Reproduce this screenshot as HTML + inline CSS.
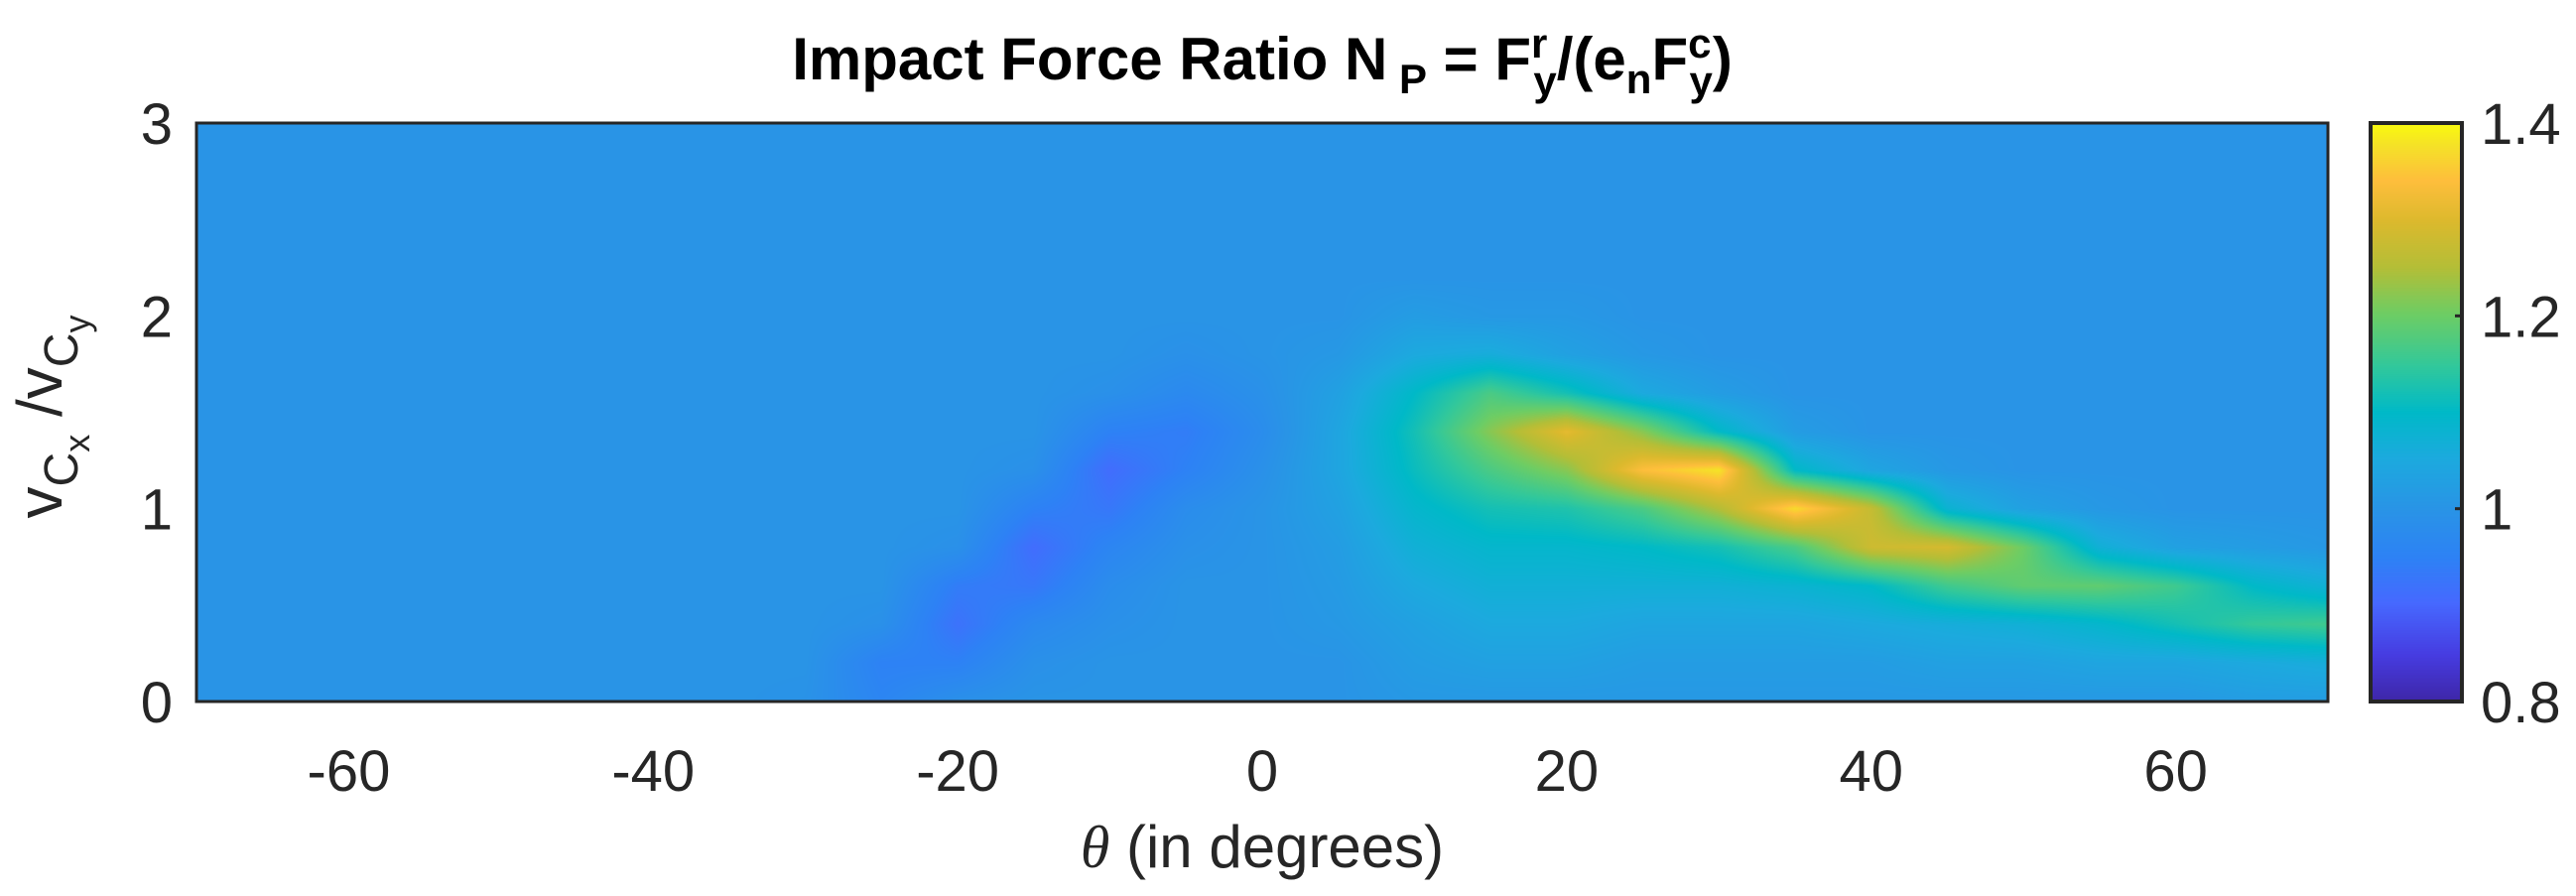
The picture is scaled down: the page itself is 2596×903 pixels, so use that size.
<!DOCTYPE html>
<html><head><meta charset="utf-8"><style>
html,body{margin:0;padding:0;background:#fff;}
#wrap{position:relative;width:2596px;height:903px;overflow:hidden;font-family:"Liberation Sans",Arial,sans-serif;}
svg text{font-family:"Liberation Sans",Arial,sans-serif;fill:#262626;}
canvas{position:absolute;}
</style></head><body>
<div id="wrap">
<canvas id="heat" style="left:198px;top:124px" width="2148" height="583"></canvas>
<canvas id="cbar" style="left:2389px;top:124px" width="92" height="583"></canvas>
<svg id="ov" width="2596" height="903" style="position:absolute;left:0;top:0">
<text x="1272" y="80" text-anchor="middle" font-size="60" font-weight="bold" style="fill:#000">Impact Force Ratio N<tspan font-size="42" dy="14"> P</tspan><tspan dy="-14"> = F</tspan><tspan font-size="42" dy="-22">r</tspan><tspan font-size="42" dx="-14" dy="38">y</tspan><tspan dy="-16">/(e</tspan><tspan font-size="42" dy="14">n</tspan><tspan dy="-14">F</tspan><tspan font-size="42" dy="-22">c</tspan><tspan font-size="42" dx="-22" dy="38">y</tspan><tspan dy="-16">)</tspan></text>
<text x="1272" y="874" text-anchor="middle" font-size="60"><tspan font-style="italic" font-family="Liberation Serif">θ</tspan> (in degrees)</text>
<g transform="translate(62,420) rotate(-90)">
<text x="0" y="0" text-anchor="middle" font-size="64">v<tspan font-size="48" dy="16">C</tspan><tspan font-size="36" dy="12">x</tspan><tspan dy="-28"> /v</tspan><tspan font-size="48" dy="16">C</tspan><tspan font-size="36" dy="12">y</tspan></text>
</g>
<g id="xt"></g><g id="yt"></g><g id="ct"></g>
<rect x="198" y="124" width="2148" height="583" fill="none" stroke="#262626" stroke-width="3"/>
<rect x="2389" y="124" width="92" height="583" fill="none" stroke="#262626" stroke-width="4"/>
</svg>
</div>
<script>
const thetas=[-70,-65,-60,-55,-50,-45,-40,-35,-30,-25,-20,-15,-10,-5,0,5,10,15,20,25,30,35,40,45,50,55,60,65,70];
const ratios=[0,0.2,0.4,0.6,0.8,1.0,1.2,1.4,1.6,1.8,2.0,2.2,2.4,2.6,2.8,3.0];
const xTicks=[-60,-40,-20,0,20,40,60];
const yTicks=[0,1,2,3];
const cTicks=[0.8,1,1.2,1.4];
const cMin=0.8, cMax=1.4;
const c_m70=[1,1,1,1,1,1,1,1,1,1,1,1,1,1,1,1];
const c_m65=[1,1,1,1,1,1,1,1,1,1,1,1,1,1,1,1];
const c_m60=[1,1,1,1,1,1,1,1,1,1,1,1,1,1,1,1];
const c_m55=[1,1,1,1,1,1,1,1,1,1,1,1,1,1,1,1];
const c_m50=[1,1,1,1,1,1,1,1,1,1,1,1,1,1,1,1];
const c_m45=[1,1,1,1,1,1,1,1,1,1,1,1,1,1,1,1];
const c_m40=[1,1,1,1,1,1,1,1,1,1,1,1,1,1,1,1];
const c_m35=[1,1,1,1,1,1,1,1,1,1,1,1,1,1,1,1];
const c_m30=[0.995,1,1,1,1,1,1,1,1,1,1,1,1,1,1,1];
const c_m25=[0.96,0.95,0.99,1,1,1,1,1,1,1,1,1,1,1,1,1];
const c_m20=[0.99,0.95,0.92,0.94,0.99,1,1,1,1,1,1,1,1,1,1,1];
const c_m15=[1,0.99,0.97,0.93,0.91,0.95,0.99,1,1,1,1,1,1,1,1,1];
const c_m10=[1,1,0.99,0.98,0.96,0.93,0.91,0.95,0.99,1,1,1,1,1,1,1];
const c_m5=[1,1,1,1,0.99,0.98,0.95,0.94,0.97,0.99,1,1,1,1,1,1];
const c_0=[1,1,1,1,1,1,0.99,0.98,0.99,1,1,1,1,1,1,1];
const c_5=[1,1,1.01,1.015,1.02,1.03,1.04,1.04,1.03,1.01,1,1,1,1,1,1];
const c_10=[1.01,1.02,1.03,1.05,1.07,1.09,1.11,1.12,1.10,1.05,1.02,1,1,1,1,1];
const c_15=[1.01,1.03,1.05,1.07,1.09,1.12,1.17,1.22,1.17,1.06,1.01,1,1,1,1,1];
const c_20=[1.01,1.03,1.05,1.07,1.09,1.13,1.22,1.31,1.12,1.03,1.01,1,1,1,1,1];
const c_25=[1.01,1.02,1.04,1.07,1.10,1.17,1.34,1.22,1.05,1.01,1,1,1,1,1,1];
const c_30=[1.01,1.02,1.04,1.07,1.12,1.25,1.38,1.10,1.02,1,1,1,1,1,1,1];
const c_35=[1.01,1.02,1.04,1.08,1.17,1.37,1.10,1.02,1,1,1,1,1,1,1,1];
const c_40=[1.01,1.02,1.05,1.10,1.28,1.27,1.04,1,1,1,1,1,1,1,1,1];
const c_45=[1.01,1.03,1.06,1.16,1.29,1.08,1.01,1,1,1,1,1,1,1,1,1];
const c_50=[1.01,1.03,1.07,1.19,1.20,1.03,1,1,1,1,1,1,1,1,1,1];
const c_55=[1.01,1.04,1.09,1.19,1.07,1.01,1,1,1,1,1,1,1,1,1,1];
const c_60=[1.01,1.04,1.12,1.16,1.03,1,1,1,1,1,1,1,1,1,1,1];
const c_65=[1.02,1.05,1.15,1.10,1.02,1,1,1,1,1,1,1,1,1,1,1];
const c_70=[1.02,1.06,1.16,1.07,1.01,1,1,1,1,1,1,1,1,1,1,1];
const values=[c_m70,c_m65,c_m60,c_m55,c_m50,c_m45,c_m40,c_m35,c_m30,c_m25,c_m20,c_m15,c_m10,c_m5,c_0,c_5,c_10,c_15,c_20,c_25,c_30,c_35,c_40,c_45,c_50,c_55,c_60,c_65,c_70];

const PX=198,PY=124,PW=2148,PH=583;
const xMin=-70,xMax=70,yMin=0,yMax=3;
function xScale(t){return PX+(t-xMin)/(xMax-xMin)*PW;}
function yScale(r){return PY+PH-(r-yMin)/(yMax-yMin)*PH;}
function cScale(v){return PY+PH-(v-cMin)/(cMax-cMin)*PH;}
const cmap=[[0,62,38,168],[0.08,70,60,225],[0.17,70,105,255],[0.25,45,130,245],[0.333,41,148,230],[0.42,28,170,222],[0.5,0,185,200],[0.58,50,200,155],[0.67,110,205,100],[0.75,180,190,55],[0.83,220,185,45],[0.9,254,190,60],[0.96,245,225,40],[1,249,251,14]];
function color(v){let t=(v-cMin)/(cMax-cMin);t=Math.max(0,Math.min(1,t));
 for(let i=1;i<cmap.length;i++){if(t<=cmap[i][0]){const a=cmap[i-1],b=cmap[i],f=(t-a[0])/(b[0]-a[0]);return [a[1]+f*(b[1]-a[1]),a[2]+f*(b[2]-a[2]),a[3]+f*(b[3]-a[3])];}}
 return cmap[cmap.length-1].slice(1);}
function sample(t,r){
 let i=0;while(i<thetas.length-2&&t>thetas[i+1])i++;
 let j=0;while(j<ratios.length-2&&r>ratios[j+1])j++;
 const ft=Math.max(0,Math.min(1,(t-thetas[i])/(thetas[i+1]-thetas[i])));
 const fr=Math.max(0,Math.min(1,(r-ratios[j])/(ratios[j+1]-ratios[j])));
 const a=values[i][j],b=values[i+1][j],c=values[i][j+1],d=values[i+1][j+1];
 return (a*(1-ft)+b*ft)*(1-fr)+(c*(1-ft)+d*ft)*fr;}
(function(){
 const cv=document.getElementById('heat'),ctx=cv.getContext('2d');
 const img=ctx.createImageData(PW,PH);
 for(let y=0;y<PH;y++){const r=yMax-(y+0.5)/PH*(yMax-yMin);
  for(let x=0;x<PW;x++){const t=xMin+(x+0.5)/PW*(xMax-xMin);
   const c=color(sample(t,r));const k=(y*PW+x)*4;
   img.data[k]=c[0];img.data[k+1]=c[1];img.data[k+2]=c[2];img.data[k+3]=255;}}
 ctx.putImageData(img,0,0);
 const cb=document.getElementById('cbar'),cc=cb.getContext('2d');
 for(let y=0;y<PH;y++){const v=cMax-(y+0.5)/PH*(cMax-cMin);const c=color(v);
  cc.fillStyle='rgb('+c.map(Math.round).join(',')+')';cc.fillRect(0,y,92,1);}
})();
const NS='http://www.w3.org/2000/svg';
const xt=document.getElementById('xt');
xTicks.forEach(v=>{const t=document.createElementNS(NS,'text');
 
 
 t.setAttribute('x',xScale(v));t.setAttribute('y',797);t.setAttribute('text-anchor','middle');t.setAttribute('font-size','58');
 t.textContent=v;xt.appendChild(t);});
const yt=document.getElementById('yt');
yTicks.forEach(v=>{const t=document.createElementNS(NS,'text');
 
 
 t.setAttribute('x',174);t.setAttribute('y',yScale(v)+21);t.setAttribute('text-anchor','end');t.setAttribute('font-size','58');
 t.textContent=v;yt.appendChild(t);});
const ct=document.getElementById('ct');
cTicks.forEach(v=>{const t=document.createElementNS(NS,'text');
 
 
 t.setAttribute('x',2500);t.setAttribute('y',cScale(v)+21);t.setAttribute('font-size','58');
 t.textContent=v;ct.appendChild(t);
 const l=document.createElementNS(NS,'line');
 
 
 l.setAttribute('x1',2474);l.setAttribute('x2',2481);l.setAttribute('y1',cScale(v));l.setAttribute('y2',cScale(v));l.setAttribute('stroke','#262626');l.setAttribute('stroke-width','3');ct.appendChild(l);});
</script>
</body></html>
